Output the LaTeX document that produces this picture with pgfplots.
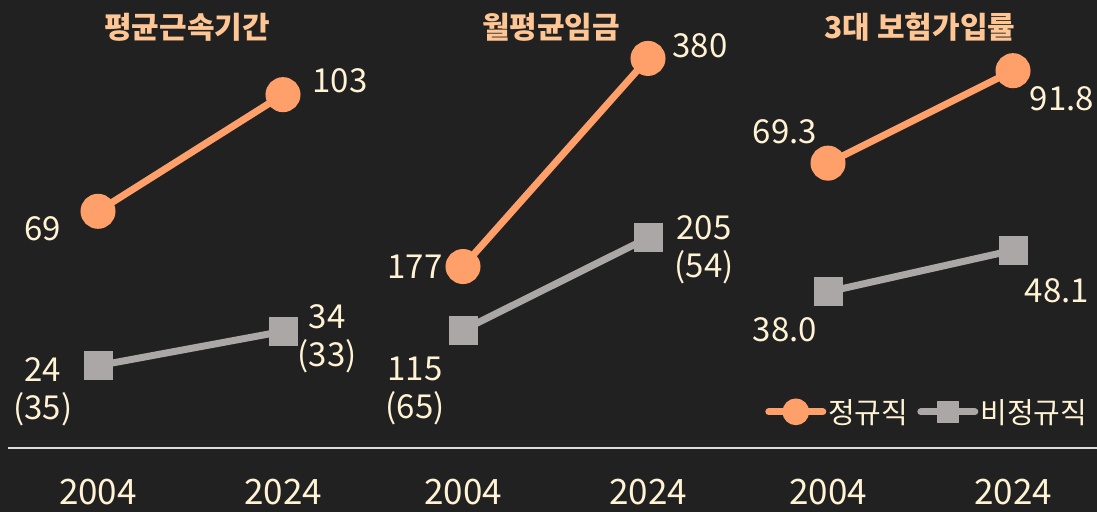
\documentclass[border=0pt]{standalone}
\usepackage{fontspec}
\setmainfont{Noto Sans CJK KR}
\usepackage{pgfplots}
\pgfplotsset{compat=1.18}
\definecolor{bgc}{HTML}{212121}
\definecolor{orangec}{HTML}{FFA06A}
\definecolor{grayc}{HTML}{AAA7A6}
\definecolor{titlec}{HTML}{FFC695}
\definecolor{creamc}{HTML}{FFF3D4}
\definecolor{basec}{HTML}{DDDDDD}
\tikzset{
  lab/.style={text=creamc, font=\fontsize{33bp}{38bp}\selectfont, align=center, inner sep=0pt},
  yr/.style={text=creamc, font=\fontsize{35bp}{38bp}\selectfont, inner sep=0pt},
  ttl/.style={text=titlec, font=\fontsize{30bp}{32bp}\selectfont\bfseries, inner sep=0pt},
}
\pgfplotsset{
  panel/.style={scale only axis, width=365bp, height=448bp, xmin=-0.5, xmax=1.473,
    ymin=0, axis line style={draw=none}, ticks=none, clip=false, anchor=south west},
  oline/.style={orangec, line width=7bp, mark=*, mark size=14bp, mark options={fill=orangec, draw=none}},
  gline/.style={grayc, line width=7bp, mark=square*, mark size=11bp, mark options={fill=grayc, draw=none}},
}
\begin{document}
\begin{tikzpicture}[x=1bp,y=1bp]
\fill[bgc] (0,0) rectangle (1097,512);
\draw[line width=2bp, basec] (8,64) -- (1097,64);

% Panel 1
\begin{axis}[panel, at={(5.5bp,64bp)}, ymax=130.6]
\addplot[oline] coordinates {(0,69) (1,103)};
\addplot[gline] coordinates {(0,24) (1,34)};
\node[lab, xshift=-55bp, yshift=-17bp] at (axis cs:0,69) {69};
\node[lab, xshift=57bp, yshift=14bp] at (axis cs:1,103) {103};
\node[lab, xshift=-55bp, yshift=-26bp] at (axis cs:0,24) {24\\(35)};
\node[lab, xshift=44bp, yshift=-7bp] at (axis cs:1,34) {34\\(33)};
\node[yr, yshift=-44bp] at (axis cs:0,0) {2004};
\node[yr, yshift=-44bp] at (axis cs:1,0) {2024};
\end{axis}

% Panel 2
\begin{axis}[panel, at={(370.5bp,64bp)}, ymax=437]
\addplot[oline] coordinates {(0,177) (1,380)};
\addplot[gline] coordinates {(0,115) (1,205)};
\node[lab, xshift=-48bp, yshift=0bp] at (axis cs:0,177) {177};
\node[lab, xshift=52bp, yshift=13bp] at (axis cs:1,380) {380};
\node[lab, xshift=-48bp, yshift=-61bp] at (axis cs:0,115) {115\\(65)};
\node[lab, xshift=56bp, yshift=-12bp] at (axis cs:1,205) {205\\(54)};
\node[yr, yshift=-44bp] at (axis cs:0,0) {2004};
\node[yr, yshift=-44bp] at (axis cs:1,0) {2024};
\end{axis}

% Panel 3
\begin{axis}[panel, at={(735.5bp,64bp)}, ymax=109,
  legend style={at={(axis cs:-0.34,8.8)}, anchor=west, draw=none, fill=none,
    text=creamc, font=\fontsize{29bp}{30bp}\selectfont, inner sep=0pt,
    /tikz/every even column/.append style={column sep=7bp}},
  legend columns=2,
  legend image code/.code={\draw[#1, line cap=round, mark repeat=2, mark phase=2, mark options={scale=0.7}] plot coordinates {(0bp,0bp) (27bp,0bp) (54bp,0bp)};}]
\addplot[oline] coordinates {(0,69.3) (1,91.8)};
\addlegendentry{정규직}
\addplot[gline] coordinates {(0,38.0) (1,48.1)};
\addlegendentry{비정규직}
\node[lab, xshift=-43bp, yshift=31bp] at (axis cs:0,69.3) {69.3};
\node[lab, xshift=49bp, yshift=-28bp] at (axis cs:1,91.8) {91.8};
\node[lab, xshift=-43bp, yshift=-38bp] at (axis cs:0,38.0) {38.0};
\node[lab, xshift=44bp, yshift=-40bp] at (axis cs:1,48.1) {48.1};
\node[yr, yshift=-44bp] at (axis cs:0,0) {2004};
\node[yr, yshift=-44bp] at (axis cs:1,0) {2024};
\end{axis}

\node[ttl] at (187,485) {평균근속기간};
\node[ttl] at (551,485) {월평균임금};
\node[ttl] at (920,485) {3대 보험가입률};

\pgfresetboundingbox
\useasboundingbox (0,0) rectangle (1097,512);
\end{tikzpicture}
\end{document}
